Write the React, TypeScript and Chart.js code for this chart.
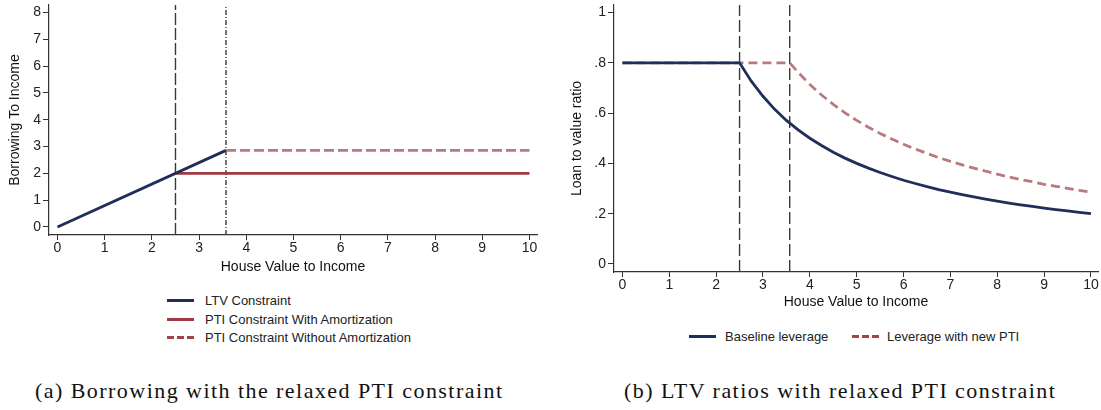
import React, { useEffect, useRef } from "react";
import { Chart, registerables } from "chart.js";

Chart.register(...registerables);

// ---------- Data ----------
// Panel (a): Borrowing to income
const ltvX = [0, 3.57];
const ltvY = [0, 2.857];
const ptiWithX = [2.5, 10];
const ptiWithY = [2, 2];
const ptiWithoutX = [3.57, 10];
const ptiWithoutY = [2.857, 2.857];
const cutoffs = [2.5, 3.57];
const xTicks = [0, 1, 2, 3, 4, 5, 6, 7, 8, 9, 10];
const yTicksA = [0, 1, 2, 3, 4, 5, 6, 7, 8];

// Panel (b): Loan to value ratio
const baseX = [0, 2.5, 2.75, 3, 3.25, 3.5, 3.75, 4, 4.25, 4.5, 4.75, 5, 5.25, 5.5, 5.75, 6, 6.25, 6.5, 6.75, 7, 7.25, 7.5, 7.75, 8, 8.25, 8.5, 8.75, 9, 9.25, 9.5, 9.75, 10];
const baseY = [0.8, 0.8, 0.727, 0.667, 0.615, 0.571, 0.533, 0.5, 0.471, 0.444, 0.421, 0.4, 0.381, 0.364, 0.348, 0.333, 0.32, 0.308, 0.296, 0.286, 0.276, 0.267, 0.258, 0.25, 0.242, 0.235, 0.229, 0.222, 0.216, 0.211, 0.205, 0.2];
const newX = [0, 3.57, 3.75, 4, 4.25, 4.5, 4.75, 5, 5.25, 5.5, 5.75, 6, 6.25, 6.5, 6.75, 7, 7.25, 7.5, 7.75, 8, 8.25, 8.5, 8.75, 9, 9.25, 9.5, 9.75, 10];
const newY = [0.8, 0.8, 0.762, 0.714, 0.672, 0.635, 0.601, 0.571, 0.544, 0.519, 0.497, 0.476, 0.457, 0.44, 0.423, 0.408, 0.394, 0.381, 0.369, 0.357, 0.346, 0.336, 0.327, 0.317, 0.309, 0.301, 0.293, 0.286];
const yTicksB = [0, 0.2, 0.4, 0.6, 0.8, 1];
const yTickLabelsB = ["0", ".2", ".4", ".6", ".8", "1"];

const legendA = ["LTV Constraint", "PTI Constraint With Amortization", "PTI Constraint Without Amortization"];
const legendB = ["Baseline leverage", "Leverage with new PTI"];

// ---------- Styles ----------
const NAVY = "#1f2f5a";
const MAROON = "#9e3a40";
const MAROON_LIGHT = "#b97a7e";
const LEGEND_DASH = "#a0444a";
const VLINE = "#3a3a3a";
const AXIS = "#333333";
const FONT = "'Liberation Sans', Arial, sans-serif";
const TICK_SIZE = 14;
const TITLE_SIZE = 14;

const zip = (xs: number[], ys: number[]) => xs.map((x, i) => ({ x, y: ys[i] }));

function axisCommon(ticks: number[], labels: string[] | null, tickLength: number, padding: number) {
  return {
    type: "linear" as const,
    grid: { drawOnChartArea: false, drawTicks: true, tickLength, color: AXIS, lineWidth: 1 },
    border: { display: true, color: AXIS, width: 1.2 },
    afterBuildTicks: (scale: any) => {
      scale.ticks = ticks.map((v) => ({ value: v }));
    },
    ticks: {
      color: "#222",
      font: { family: FONT, size: TICK_SIZE },
      padding,
      autoSkip: false,
      maxRotation: 0,
      callback: (v: any) => {
        if (labels) {
          const i = ticks.findIndex((t) => Math.abs(t - v) < 1e-9);
          return i >= 0 ? labels[i] : "";
        }
        return String(v);
      },
    },
  };
}

function vline(x: number, ymin: number, ymax: number, dash: number[]) {
  return {
    label: "",
    data: [{ x, y: ymin }, { x, y: ymax }],
    borderColor: VLINE,
    borderWidth: 1.4,
    borderDash: dash,
    pointRadius: 0,
    fill: false,
  };
}

const AX_MIN = -0.3;
const AX_MAX = 8.28;
const BX_MIN = -0.032;
const BX_MAX = 1.03;

const fitX = (h: number) => (s: any) => {
  s.height = h;
  s.paddingLeft = 0;
  s.paddingRight = 0;
};
const fitY = (w: number) => (s: any) => {
  s.width = w;
  s.paddingTop = 0;
  s.paddingBottom = 0;
};

function ChartA() {
  const ref = useRef<HTMLCanvasElement>(null);
  useEffect(() => {
    const c = new Chart(ref.current!, {
      type: "line",
      data: {
        datasets: [
          { label: legendA[0], data: zip(ltvX, ltvY), borderColor: NAVY, borderWidth: 2.8, pointRadius: 0, fill: false },
          { label: legendA[1], data: zip(ptiWithX, ptiWithY), borderColor: MAROON, borderWidth: 2.8, pointRadius: 0, fill: false },
          { label: legendA[2], data: zip(ptiWithoutX, ptiWithoutY), borderColor: MAROON_LIGHT, borderWidth: 2.8, borderDash: [10, 4], pointRadius: 0, fill: false },
          vline(cutoffs[0], AX_MIN, AX_MAX, [12, 3]) as any,
          vline(cutoffs[1], AX_MIN, AX_MAX, [5, 2, 1, 2]) as any,
        ],
      },
      options: {
        responsive: false,
        animation: false,
        layout: { padding: { top: 5, right: 8, left: 0, bottom: 0 } },
        plugins: { legend: { display: false }, tooltip: { enabled: false } },
        scales: {
          x: {
            ...axisCommon(xTicks, null, 5, 0),
            min: -0.18,
            max: 10.16,
            afterFit: fitX(45),
            title: { display: true, text: "House Value to Income", color: "#111", font: { family: FONT, size: TITLE_SIZE }, padding: { top: 0, bottom: 4.6 } },
          },
          y: {
            ...axisCommon(yTicksA, null, 6, 2),
            min: AX_MIN,
            max: AX_MAX,
            afterFit: fitY(49),
            title: { display: true, text: "Borrowing To Income", color: "#111", font: { family: FONT, size: TITLE_SIZE }, padding: { top: 6.6, bottom: 0 } },
          },
        },
      } as any,
    });
    return () => c.destroy();
  }, []);
  return <canvas ref={ref} width={545} height={280} style={{ position: "absolute", left: 0, top: 0, width: 545, height: 280 }} />;
}

function ChartB() {
  const ref = useRef<HTMLCanvasElement>(null);
  useEffect(() => {
    const c = new Chart(ref.current!, {
      type: "line",
      data: {
        datasets: [
          { label: legendB[0], data: zip(baseX, baseY), borderColor: NAVY, borderWidth: 2.8, pointRadius: 0, fill: false },
          { label: legendB[1], data: zip(newX, newY), borderColor: MAROON_LIGHT, borderWidth: 2.8, borderDash: [9, 5], pointRadius: 0, fill: false },
          vline(cutoffs[0], BX_MIN, BX_MAX, [12, 4]) as any,
          vline(cutoffs[1], BX_MIN, BX_MAX, [12, 4]) as any,
        ],
      },
      options: {
        responsive: false,
        animation: false,
        layout: { padding: { top: 5, right: 3, left: 0, bottom: 0 } },
        plugins: { legend: { display: false }, tooltip: { enabled: false } },
        scales: {
          x: {
            ...axisCommon(xTicks, null, 5, 0),
            min: -0.18,
            max: 10.15,
            afterFit: fitX(48),
            title: { display: true, text: "House Value to Income", color: "#111", font: { family: FONT, size: TITLE_SIZE }, padding: { top: 0, bottom: 9.6 } },
          },
          y: {
            ...axisCommon(yTicksB, yTickLabelsB, 6, 2),
            min: BX_MIN,
            max: BX_MAX,
            afterFit: fitY(54),
            title: { display: true, text: "Loan to value ratio", color: "#111", font: { family: FONT, size: TITLE_SIZE }, padding: { top: 8.6, bottom: 0 } },
          },
        },
      } as any,
    });
    return () => c.destroy();
  }, []);
  return <canvas ref={ref} width={541} height={320} style={{ position: "absolute", left: 560, top: 0, width: 541, height: 320 }} />;
}

function Swatch({ color, dashed }: { color: string; dashed?: boolean }) {
  const bg = dashed
    ? `repeating-linear-gradient(to right, ${color} 0 7px, transparent 7px 10px)`
    : color;
  return <div style={{ width: 27, height: 3, background: bg, display: "inline-block" }} />;
}

const legendText: React.CSSProperties = { fontFamily: FONT, fontSize: 13, color: "#222", whiteSpace: "nowrap" };
const captionStyle: React.CSSProperties = {
  position: "absolute",
  top: 378,
  fontFamily: "'Liberation Serif', 'DejaVu Serif', serif",
  fontSize: 22,
  letterSpacing: 1.45,
  color: "#111",
  whiteSpace: "nowrap",
};

export default function App() {
  const rowsA = [
    { color: NAVY, dashed: false },
    { color: MAROON, dashed: false },
    { color: LEGEND_DASH, dashed: true },
  ];
  const rowYA = [300.5, 319, 337];
  return (
    <div style={{ position: "absolute", left: 0, top: 0, width: 1101, height: 410, background: "#fff", overflow: "hidden" }}>
      <ChartA />
      <ChartB />
      {legendA.map((t, i) => (
        <div key={t} style={{ position: "absolute", left: 167, top: rowYA[i] - 8, height: 16, display: "flex", alignItems: "center" }}>
          <Swatch color={rowsA[i].color} dashed={rowsA[i].dashed} />
          <span style={{ ...legendText, marginLeft: 11 }}>{t}</span>
        </div>
      ))}
      <div style={{ position: "absolute", left: 689, top: 336 - 8, height: 16, display: "flex", alignItems: "center" }}>
        <Swatch color={NAVY} />
        <span style={{ ...legendText, marginLeft: 9 }}>{legendB[0]}</span>
      </div>
      <div style={{ position: "absolute", left: 852, top: 336 - 8, height: 16, display: "flex", alignItems: "center" }}>
        <Swatch color={LEGEND_DASH} dashed />
        <span style={{ ...legendText, marginLeft: 8 }}>{legendB[1]}</span>
      </div>
      <div style={{ ...captionStyle, left: 35 }}>(a) Borrowing with the relaxed PTI constraint</div>
      <div style={{ ...captionStyle, left: 624 }}>(b) LTV ratios with relaxed PTI constraint</div>
    </div>
  );
}
